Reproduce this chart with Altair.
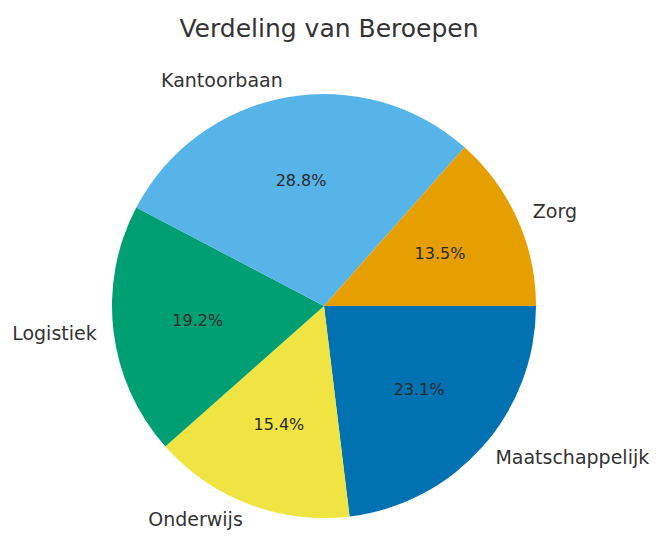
import math
import altair as alt
import pandas as pd

categories = ["Maatschappelijk", "Onderwijs", "Logistiek", "Kantoorbaan", "Zorg"]
counts = [12, 8, 10, 15, 7]
colors = ["#0072B2", "#F0E442", "#009E73", "#56B4E9", "#E69F00"]
sides = ["r", "l", "l", "l", "r"]

df = pd.DataFrame({
    "Beroep": categories,
    "Aantal": counts,
    "idx": list(range(len(categories))),
    "side": sides,
})

cx, cy, R = 316, 252, 212

base = alt.Chart(df).transform_joinaggregate(
    total="sum(Aantal)"
).transform_calculate(
    pct="format(datum.Aantal / datum.total * 100, '.1f') + '%'",
    lab_r="datum.side == 'r' ? datum.Beroep : ''",
    lab_l="datum.side == 'l' ? datum.Beroep : ''",
).encode(
    theta=alt.Theta("Aantal:Q", stack=True,
                    scale=alt.Scale(range=[math.pi / 2, 5 * math.pi / 2])),
    order=alt.Order("idx:Q", sort="ascending"),
    x=alt.value(cx),
    y=alt.value(cy),
)

arcs = base.mark_arc(outerRadius=R, stroke=None).encode(
    color=alt.Color("Beroep:N", scale=alt.Scale(domain=categories, range=colors),
                    legend=None)
)

pct = base.mark_text(radius=R * 0.6, font="DejaVu Sans", fontSize=16,
                     color="#2a2a2a", baseline="middle", align="center").encode(
    text="pct:N"
)

lab_r = base.mark_text(radius=R * 1.08, font="DejaVu Sans", fontSize=19,
                       color="#333333", baseline="middle", align="left").encode(
    text="lab_r:N"
)
lab_l = base.mark_text(radius=R * 1.08, font="DejaVu Sans", fontSize=19,
                       color="#333333", baseline="middle", align="right").encode(
    text="lab_l:N"
)

chart = alt.layer(arcs, pct, lab_r, lab_l).properties(
    width=642,
    height=478,
    padding={"left": 0, "right": 0, "top": 46, "bottom": 0},
    autosize=alt.AutoSizeParams(type="none"),
    title=alt.TitleParams("Verdeling van Beroepen", font="DejaVu Sans",
                          fontSize=25, fontWeight="normal", color="#333333",
                          anchor="middle", offset=12),
).configure_view(stroke=None)

chart.save("out.html", embed_options={"renderer": "svg", "actions": False})
